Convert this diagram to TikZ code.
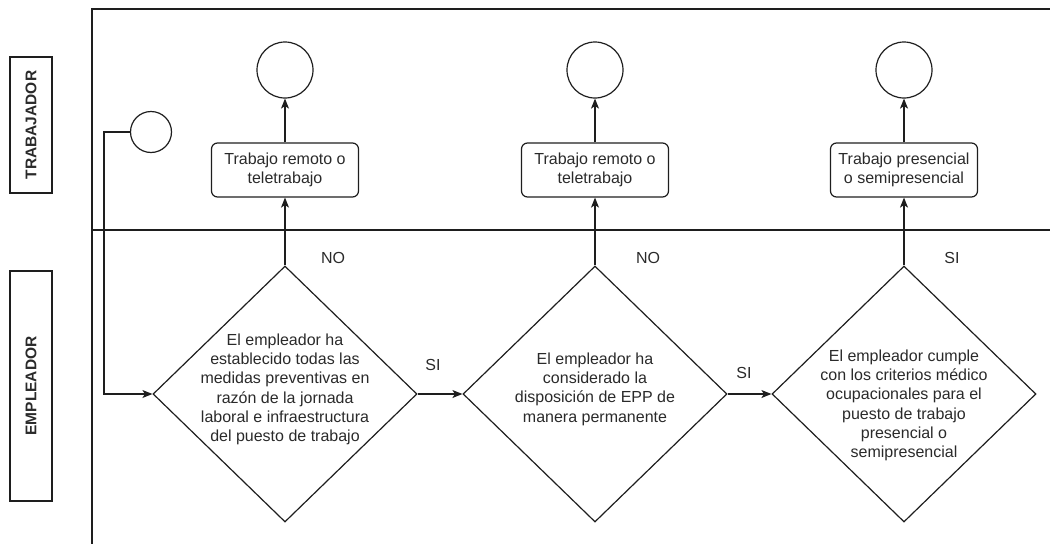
\documentclass[tikz,border=0pt]{standalone}
\usepackage{fontspec}
\setmainfont{Liberation Sans}
\usetikzlibrary{shapes.geometric,arrows.meta}
\definecolor{ink}{HTML}{1E1E1E}
\definecolor{txt}{HTML}{2A2A2A}
\begin{document}
\begin{tikzpicture}[x=1pt,y=-1pt,
  line width=1.2pt,
  every node/.style={text=txt,font=\fontsize{16}{19}\selectfont},
  pool/.style={draw=ink,line width=1.2pt},
  lanelbl/.style={draw=ink,line width=1.2pt,rotate=90,minimum height=42pt,inner sep=0pt,font=\fontsize{15.5}{18}\selectfont\bfseries},
  endc/.style={draw=ink,circle,minimum size=56pt,inner sep=0pt},
  startc/.style={draw=ink,circle,minimum size=41pt,inner sep=0pt},
  task/.style={draw=ink,rounded corners=6pt,minimum width=147pt,minimum height=54pt,inner sep=0pt,align=center,font=\fontsize{16}{18.7}\selectfont},
  dia/.style={draw=ink,diamond,minimum width=264pt,minimum height=256pt,inner sep=0pt},
  dtext/.style={align=center,inner sep=0pt,font=\fontsize{16}{19.3}\selectfont},
  arr/.style={draw=ink,-{Stealth[length=10pt,width=8pt,inset=2.5pt]}},
  lbl/.style={inner sep=0pt,font=\fontsize{16}{19}\selectfont}
]
\useasboundingbox (0,0) rectangle (1050,544);

% pool and lanes
\draw[pool] (1050,9) -- (92,9) -- (92,544);
\draw[pool] (92,230) -- (1050,230);
\node[lanelbl,minimum width=136pt] (lt) at (31,125) {TRABAJADOR};
\node[lanelbl,minimum width=230pt] (le) at (31,386) {EMPLEADOR};

% start
\node[startc] (s) at (151,132) {};
\coordinate (bend) at (104,132);

% diamonds
\node[dia] (d1) at (285,394) {};
\node[dia] (d2) at (595,394) {};
\node[dia] (d3) at (904,394) {};
\node[dtext] (t1) at (285,389.5) {El empleador ha\\establecido todas las\\medidas preventivas en\\razón de la jornada\\laboral e infraestructura\\del puesto de trabajo};
\node[dtext] (t2) at (595,389) {El empleador ha\\considerado la\\disposición de EPP de\\manera permanente};
\node[dtext] (t3) at (904,405.5) {El empleador cumple\\con los criterios médico\\ocupacionales para el\\puesto de trabajo\\presencial o\\semipresencial};

% tasks
\node[task] (b1) at (285,170) {Trabajo remoto o\\teletrabajo};
\node[task] (b2) at (595,170) {Trabajo remoto o\\teletrabajo};
\node[task] (b3) at (904,170) {Trabajo presencial\\o semipresencial};

% end events
\node[endc] (e1) at (285,70) {};
\node[endc] (e2) at (595,70) {};
\node[endc] (e3) at (904,70) {};

% connectors
\draw[arr] (s.west) -- (bend) |- (d1.west);
\draw[arr] (d1.east) -- (d2.west);
\draw[arr] (d2.east) -- (d3.west);
\draw[arr] (d1.north) -- (b1.south);
\draw[arr] (d2.north) -- (b2.south);
\draw[arr] (d3.north) -- (b3.south);
\draw[arr] (b1.north) -- (e1.south);
\draw[arr] (b2.north) -- (e2.south);
\draw[arr] (b3.north) -- (e3.south);

% labels
\node[lbl] (n1) at (333,258) {NO};
\node[lbl] (n2) at (648,258) {NO};
\node[lbl] (n3) at (952,258) {SI};
\node[lbl] (y1) at (433,365) {SI};
\node[lbl] (y2) at (744,373) {SI};
\end{tikzpicture}
\end{document}
